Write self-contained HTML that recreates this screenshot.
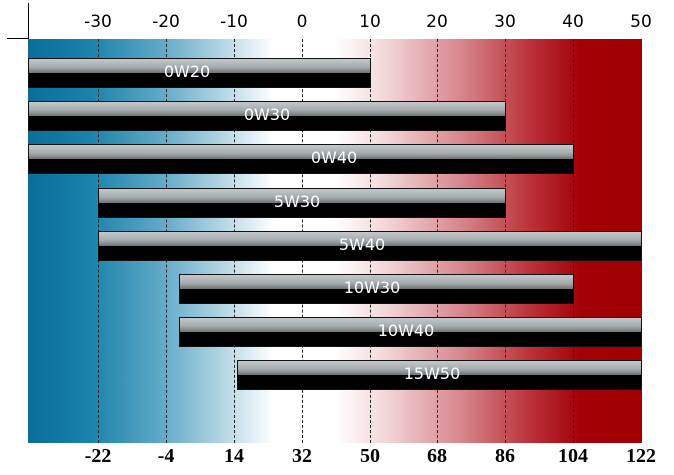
<!DOCTYPE html><html><head><style>
body{margin:0;width:674px;height:475px;background:#fff;overflow:hidden;position:relative;font-family:"DejaVu Sans",sans-serif}
#plot{position:absolute;left:28px;top:39px;width:614px;height:404px;background:linear-gradient(to right,#0a6e98 0%,#1a82ab 10%,#62aac8 22%,#c0dce8 33%,#fff 40%,#fff 50%,#f3d8da 58%,#d88a90 70%,#bb3038 82%,#a30008 90%,#a00000 100%)}
.g{position:absolute;top:39px;height:404px;width:0;border-left:1px dashed #222}
.bar{position:absolute;height:30px;background:linear-gradient(#c4c8ca 0%,#a4aaad 30%,#6d7274 50%,#000 50%,#000 100%);border:1px solid #111;box-sizing:border-box}
.l{position:absolute;color:#fff;font-size:16px;width:100px;margin-left:-50px;text-align:center;line-height:20px}
.t{position:absolute;top:12px;font-size:17px;width:40px;margin-left:-20px;text-align:center;color:#000}
.b{position:absolute;top:445px;font:bold 20px "Liberation Serif",serif;width:50px;margin-left:-25px;text-align:center;color:#000}
</style></head><body>
<div style="position:absolute;left:28px;top:3px;width:1px;height:37px;background:#000"></div>
<div style="position:absolute;left:7px;top:38px;width:22px;height:1px;background:#000"></div>
<div id="plot"></div>
<div class="g" style="left:98px"></div><div class="g" style="left:166px"></div><div class="g" style="left:234px"></div><div class="g" style="left:302px"></div><div class="g" style="left:370px"></div><div class="g" style="left:437px"></div><div class="g" style="left:505px"></div><div class="g" style="left:573px"></div>
<div class="t" style="left:98px">-30</div><div class="t" style="left:166px">-20</div><div class="t" style="left:234px">-10</div><div class="t" style="left:302px">0</div><div class="t" style="left:370px">10</div><div class="t" style="left:437px">20</div><div class="t" style="left:505px">30</div><div class="t" style="left:573px">40</div><div class="t" style="left:641px">50</div>
<div class="bar" style="left:28px;width:343px;top:58px"></div>
<div class="bar" style="left:28px;width:478px;top:101px"></div>
<div class="bar" style="left:28px;width:546px;top:144px"></div>
<div class="bar" style="left:98px;width:408px;top:188px"></div>
<div class="bar" style="left:98px;width:544px;top:231px"></div>
<div class="bar" style="left:179px;width:395px;top:274px"></div>
<div class="bar" style="left:179px;width:463px;top:317px"></div>
<div class="bar" style="left:237px;width:405px;top:360px"></div>
<div class="l" style="left:187px;top:62px">0W20</div>
<div class="l" style="left:267px;top:105px">0W30</div>
<div class="l" style="left:334px;top:148px">0W40</div>
<div class="l" style="left:297px;top:192px">5W30</div>
<div class="l" style="left:362px;top:235px">5W40</div>
<div class="l" style="left:372px;top:278px">10W30</div>
<div class="l" style="left:406px;top:321px">10W40</div>
<div class="l" style="left:432px;top:364px">15W50</div>
<div class="b" style="left:98px">-22</div><div class="b" style="left:166px">-4</div><div class="b" style="left:234px">14</div><div class="b" style="left:302px">32</div><div class="b" style="left:370px">50</div><div class="b" style="left:437px">68</div><div class="b" style="left:505px">86</div><div class="b" style="left:573px">104</div><div class="b" style="left:641px">122</div>
</body></html>
